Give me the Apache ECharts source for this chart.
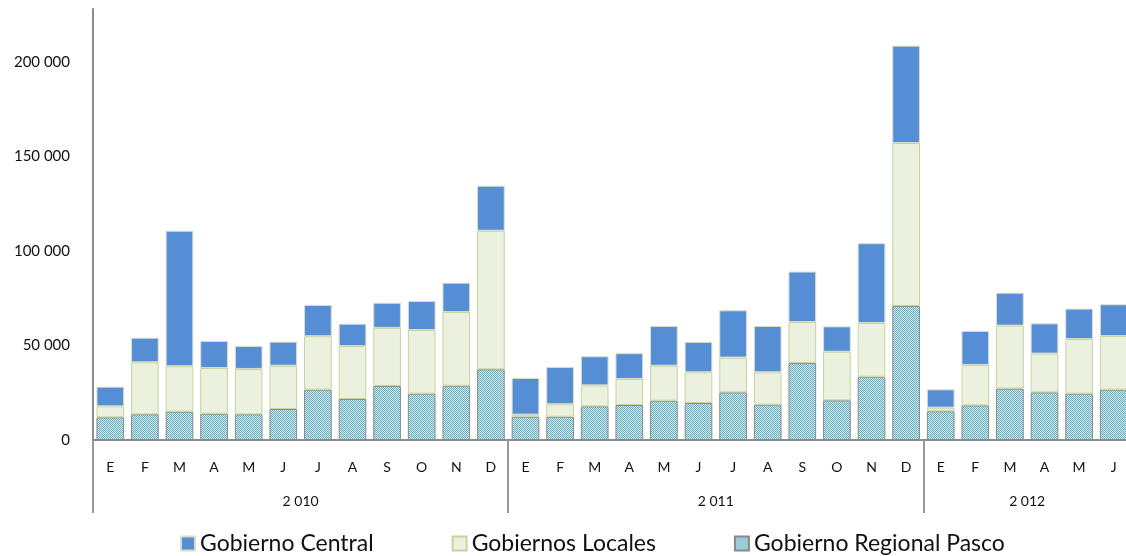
<!DOCTYPE html>
<html>
<head>
<meta charset="utf-8">
<script src="https://cdn.jsdelivr.net/npm/echarts@6/dist/echarts.min.js"></script>
<style>
html,body{margin:0;padding:0;background:#fff;}
#c{width:1126px;height:556px;}
</style>
</head>
<body>
<div id="c"></div>
<script>
// Data (segment values, stacked bottom to top: Regional, Locales, Central)
const months = ['E','F','M','A','M','J','J','A','S','O','N','D',
                'E','F','M','A','M','J','J','A','S','O','N','D',
                'E','F','M','A','M','J'];
const yearLabels = ['2 010','2 011','2 012'];
const yearLabelPositions = [6, 18, 27]; // month-boundary indices where year labels are centered
const yearSeparators = [0, 12, 24, 30];
const regionalPasco = [12000,13600,15000,13900,13600,16400,26600,21700,28600,24500,28700,37400,
                       12300,12300,17800,18500,20800,19600,25200,18700,40700,21000,33500,70900,
                       15200,18300,27200,25200,24500,26600];
const gobiernosLocales = [5800,27500,24000,24200,24000,22900,28300,28000,30700,33700,39000,73300,
                          1100,6600,11100,13800,18500,16200,18400,17100,21700,25700,28400,86200,
                          1900,21400,33300,20500,28900,28400];
const gobiernoCentral = [10400,13000,71700,14300,12100,12700,16500,11800,13300,15300,15500,23800,
                         19400,19700,15400,13600,21000,16100,25000,24500,26700,13400,42200,51500,
                         9700,18000,17400,16000,16100,16800];
const yTicks = [0, 50000, 100000, 150000, 200000];

// year axis: 31 boundary points
const yearAxisData = [];
for (let i = 0; i <= months.length; i++) {
  const k = yearLabelPositions.indexOf(i);
  yearAxisData.push(k >= 0 ? yearLabels[k] : '');
}

// dotted pattern for Gobierno Regional Pasco
const pc = document.createElement('canvas');
pc.width = 2; pc.height = 2;
const pctx = pc.getContext('2d');
pctx.fillStyle = '#c9e6ec'; pctx.fillRect(0,0,2,2);
pctx.fillStyle = '#6fb2c1'; pctx.fillRect(0,0,1,1); pctx.fillRect(1,1,1,1);

const fmt = v => {
  const s = String(Math.round(v));
  return s.replace(/\B(?=(\d{3})+(?!\d))/g, ' ');
};

const chart = echarts.init(document.getElementById('c'), null, {renderer:'canvas'});
const FONT = 'Lato';
chart.setOption({
  animation: false,
  textStyle: {fontFamily: FONT},
  grid: {left: 93, width: 1038, top: 9, height: 431, containLabel: false, outerBoundsMode: 'none'},
  legend: {
    data: ['Gobierno Central','Gobiernos Locales','Gobierno Regional Pasco'],
    left: 175, top: 527,
    itemWidth: 14, itemHeight: 14, itemGap: 78,
    textStyle: {fontSize: 23, color: '#111', fontFamily: FONT},
    icon: 'rect'
  },
  xAxis: [
    {
      type: 'category', data: months, position: 'bottom',
      axisLine: {show: true, lineStyle: {color: '#8c8c8c', width: 2}},
      axisTick: {show: false},
      axisLabel: {interval: 0, fontSize: 14, color: '#111', margin: 20}
    },
    {
      type: 'category', data: yearAxisData, position: 'bottom', boundaryGap: false,
      axisLine: {show: false},
      axisTick: {show: true, length: 73, lineStyle: {color: '#999', width: 2},
                 interval: (i) => yearSeparators.indexOf(i) >= 0},
      axisLabel: {interval: 0, fontSize: 14, color: '#111', margin: 54,
                  showMinLabel: true, showMaxLabel: true}
    }
  ],
  yAxis: {
    type: 'value', min: 0, max: 228000, interval: 50000,
    axisLine: {show: true, lineStyle: {color: '#8c8c8c', width: 2}},
    axisTick: {show: false},
    splitLine: {show: false},
    axisLabel: {fontSize: 15, color: '#111', margin: 23, showMaxLabel: false,
                formatter: v => yTicks.indexOf(v) >= 0 ? fmt(v) : ''}
  },
  series: [
    {
      name: 'Gobierno Regional Pasco', type: 'bar', stack: 't', data: regionalPasco,
      barCategoryGap: '20%',
      itemStyle: {color: {image: pc, repeat: 'repeat'}, borderColor: '#8a8a8a', borderWidth: 1}
    },
    {
      name: 'Gobiernos Locales', type: 'bar', stack: 't', data: gobiernosLocales,
      barCategoryGap: '20%',
      itemStyle: {color: '#ebf1de', borderColor: '#c3d69b', borderWidth: 1}
    },
    {
      name: 'Gobierno Central', type: 'bar', stack: 't', data: gobiernoCentral,
      barCategoryGap: '20%',
      itemStyle: {color: '#558ed5', borderColor: '#d9dccb', borderWidth: 1}
    }
  ]
});
</script>
</body>
</html>
